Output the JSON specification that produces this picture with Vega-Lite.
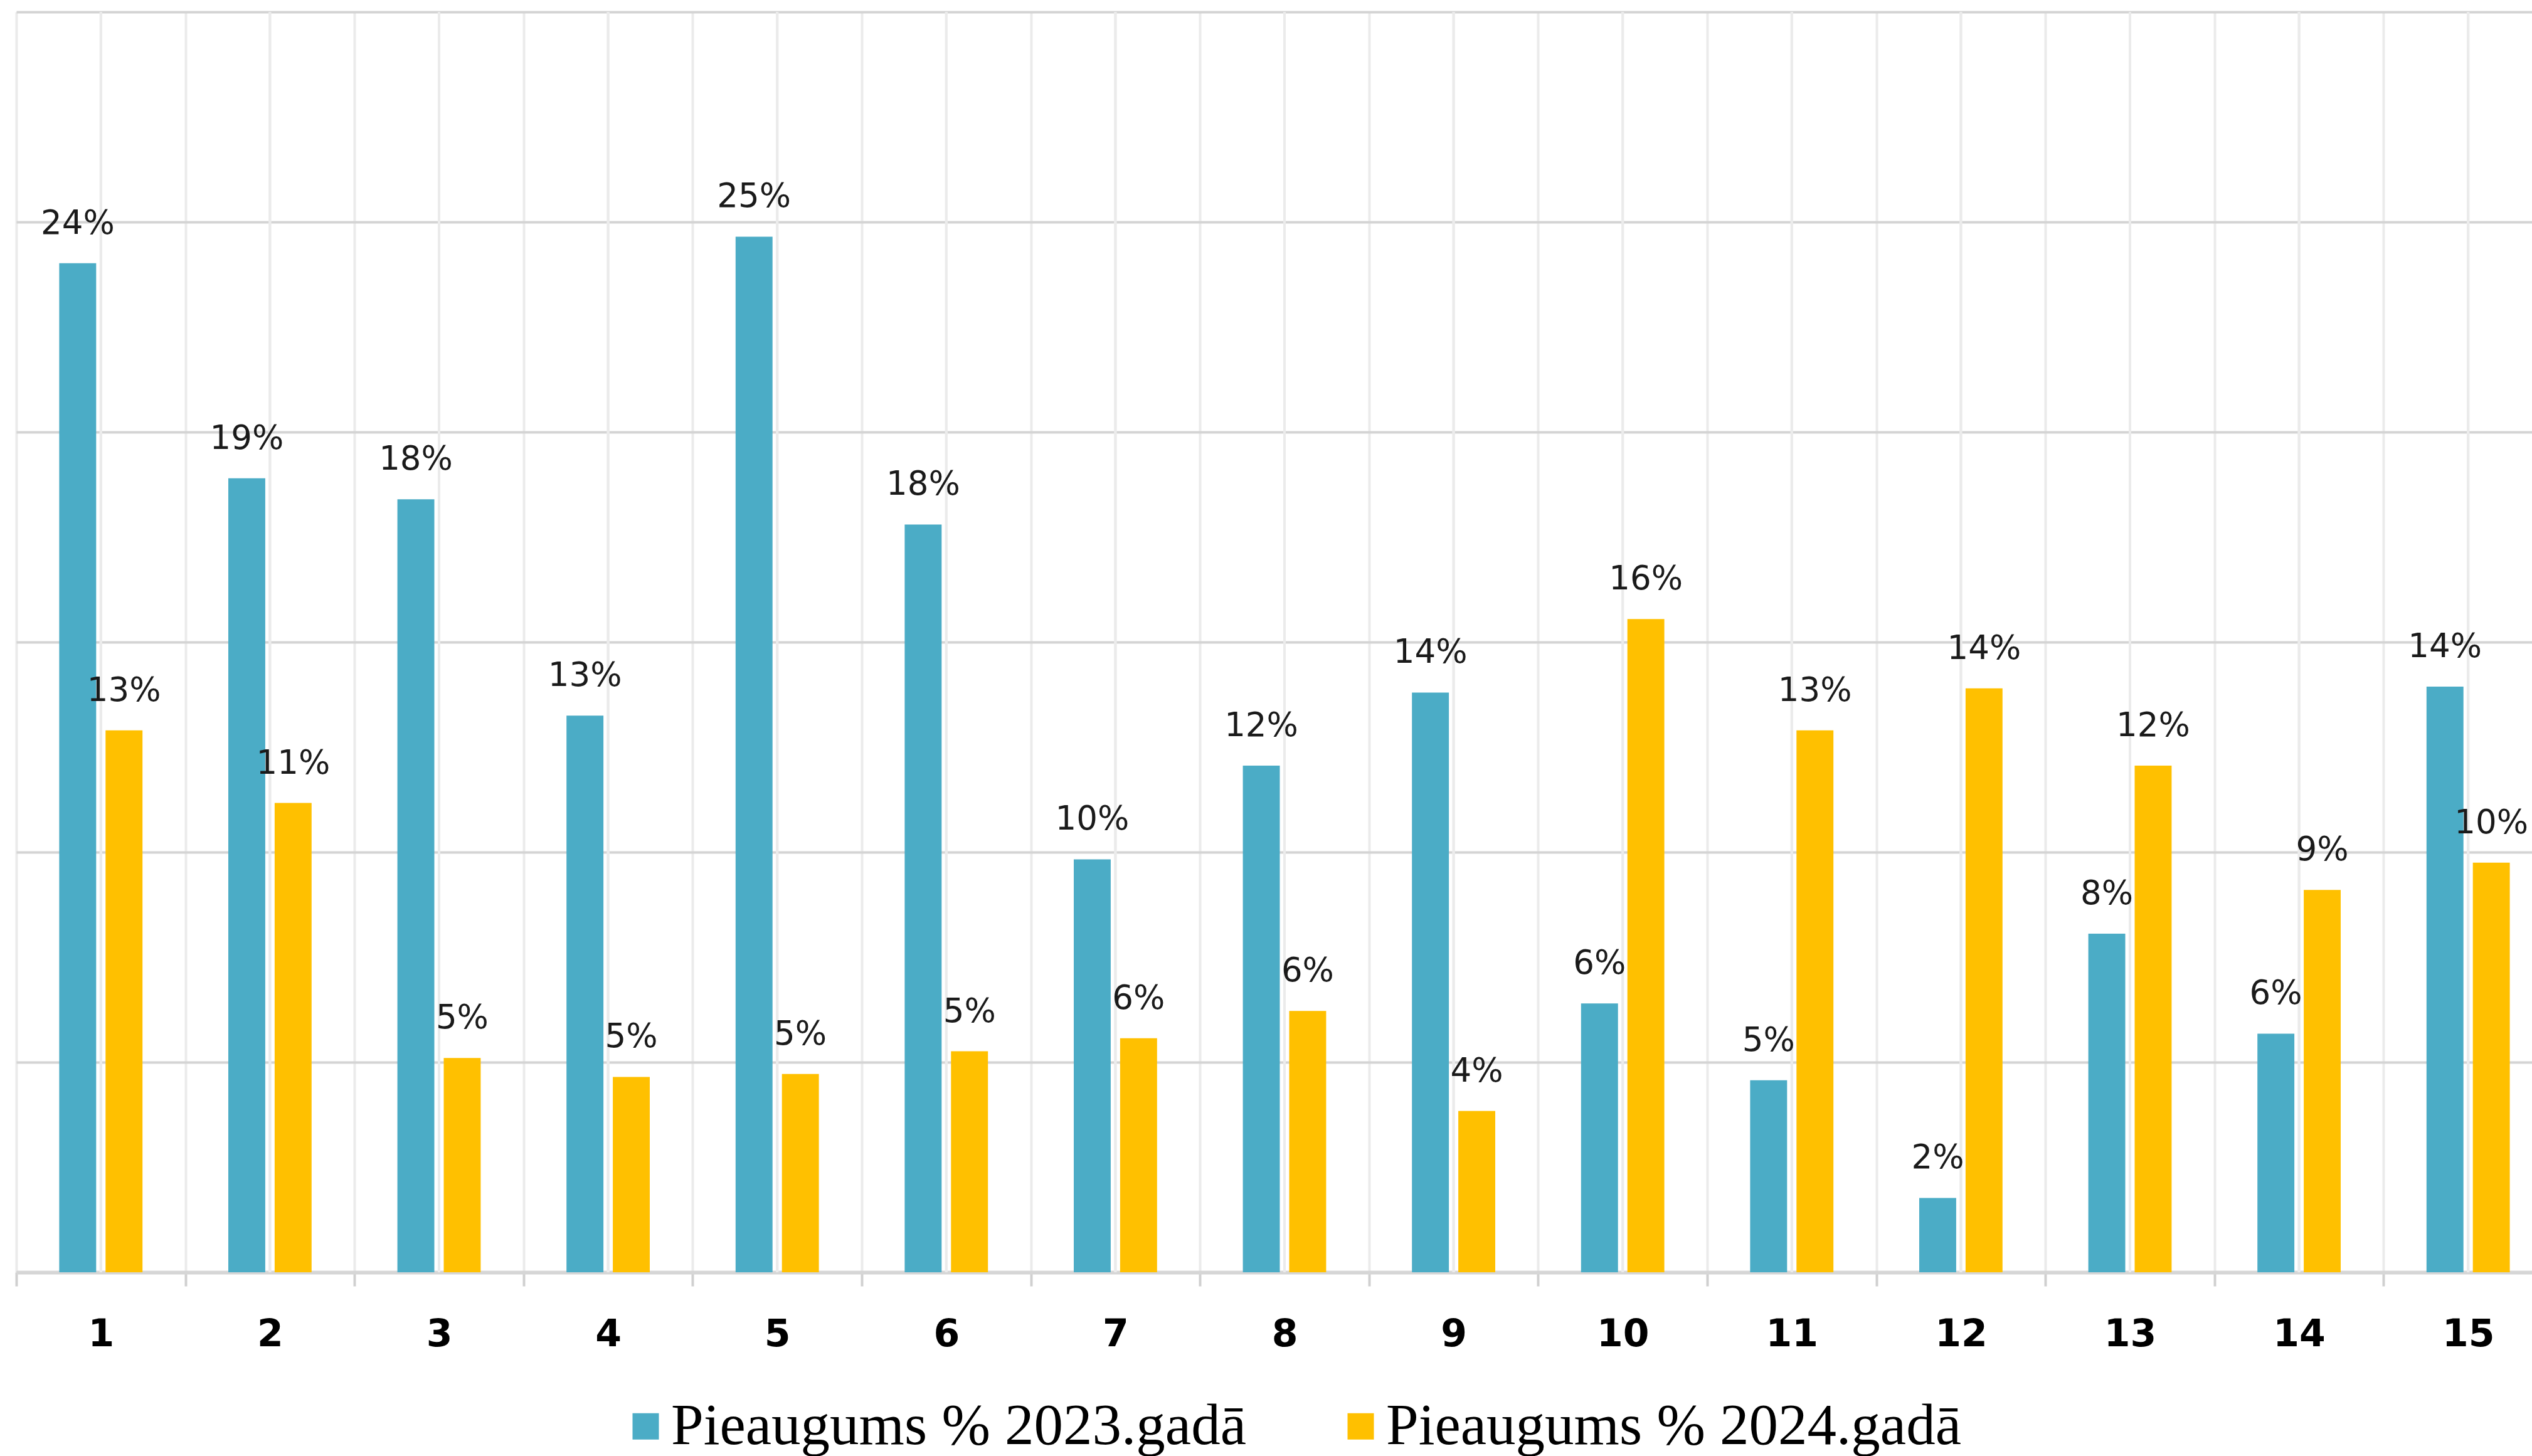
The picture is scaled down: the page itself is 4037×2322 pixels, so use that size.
{
  "$schema": "https://vega.github.io/schema/vega-lite/v6.json",
  "width": 4011,
  "height": 2010,
  "autosize": {"type": "none"},
  "padding": {"left": 26, "top": 19, "right": 0, "bottom": 293},
  "background": "white",
  "config": {"view": {"stroke": null}},
  "data": {
    "values": [
      {"nr": 1, "serija": "Pieaugums % 2023.gadā", "vertiba": 0.2402},
      {"nr": 1, "serija": "Pieaugums % 2024.gadā", "vertiba": 0.129},
      {"nr": 2, "serija": "Pieaugums % 2023.gadā", "vertiba": 0.189},
      {"nr": 2, "serija": "Pieaugums % 2024.gadā", "vertiba": 0.1117},
      {"nr": 3, "serija": "Pieaugums % 2023.gadā", "vertiba": 0.184},
      {"nr": 3, "serija": "Pieaugums % 2024.gadā", "vertiba": 0.051},
      {"nr": 4, "serija": "Pieaugums % 2023.gadā", "vertiba": 0.1325},
      {"nr": 4, "serija": "Pieaugums % 2024.gadā", "vertiba": 0.0465},
      {"nr": 5, "serija": "Pieaugums % 2023.gadā", "vertiba": 0.2465},
      {"nr": 5, "serija": "Pieaugums % 2024.gadā", "vertiba": 0.0472},
      {"nr": 6, "serija": "Pieaugums % 2023.gadā", "vertiba": 0.178},
      {"nr": 6, "serija": "Pieaugums % 2024.gadā", "vertiba": 0.0526},
      {"nr": 7, "serija": "Pieaugums % 2023.gadā", "vertiba": 0.0983},
      {"nr": 7, "serija": "Pieaugums % 2024.gadā", "vertiba": 0.0557},
      {"nr": 8, "serija": "Pieaugums % 2023.gadā", "vertiba": 0.1206},
      {"nr": 8, "serija": "Pieaugums % 2024.gadā", "vertiba": 0.0622},
      {"nr": 9, "serija": "Pieaugums % 2023.gadā", "vertiba": 0.138},
      {"nr": 9, "serija": "Pieaugums % 2024.gadā", "vertiba": 0.0384},
      {"nr": 10, "serija": "Pieaugums % 2023.gadā", "vertiba": 0.064},
      {"nr": 10, "serija": "Pieaugums % 2024.gadā", "vertiba": 0.1555},
      {"nr": 11, "serija": "Pieaugums % 2023.gadā", "vertiba": 0.0457},
      {"nr": 11, "serija": "Pieaugums % 2024.gadā", "vertiba": 0.129},
      {"nr": 12, "serija": "Pieaugums % 2023.gadā", "vertiba": 0.0177},
      {"nr": 12, "serija": "Pieaugums % 2024.gadā", "vertiba": 0.139},
      {"nr": 13, "serija": "Pieaugums % 2023.gadā", "vertiba": 0.0806},
      {"nr": 13, "serija": "Pieaugums % 2024.gadā", "vertiba": 0.1206},
      {"nr": 14, "serija": "Pieaugums % 2023.gadā", "vertiba": 0.0568},
      {"nr": 14, "serija": "Pieaugums % 2024.gadā", "vertiba": 0.091},
      {"nr": 15, "serija": "Pieaugums % 2023.gadā", "vertiba": 0.1394},
      {"nr": 15, "serija": "Pieaugums % 2024.gadā", "vertiba": 0.0975}
    ]
  },
  "encoding": {
    "x": {
      "field": "nr",
      "type": "ordinal",
      "scale": {"range": [0, 4044], "paddingInner": 0, "paddingOuter": 0},
      "axis": {
        "title": null,
        "labelAngle": 0,
        "labelFont": "DejaVu Sans",
        "labelFontSize": 60,
        "labelFontWeight": "bold",
        "labelColor": "#000000",
        "labelPadding": 48,
        "tickBand": "extent",
        "ticks": true,
        "tickSize": 22,
        "tickColor": "#d0d0d0",
        "tickWidth": 4,
        "domainColor": "#d6d6d6",
        "domainWidth": 6,
        "grid": true,
        "gridColor": "#ebebeb",
        "gridWidth": 4
      }
    }
  },
  "layer": [
    {
      "mark": {"type": "rule", "color": "#ebebeb", "strokeWidth": 4},
      "encoding": {}
    },
    {
      "mark": {"type": "bar"},
      "encoding": {
        "xOffset": {"field": "serija", "type": "nominal", "scale": {"paddingInner": 0.2027, "paddingOuter": 0.9257}},
        "y": {
          "field": "vertiba",
          "type": "quantitative",
          "scale": {"domain": [0, 0.3]},
          "axis": {
            "title": null,
            "labels": false,
            "ticks": false,
            "domain": false,
            "grid": true,
            "values": [0, 0.05, 0.1, 0.15, 0.2, 0.25, 0.3],
            "gridColor": "#d4d4d4",
            "gridWidth": 4
          }
        },
        "color": {
          "field": "serija",
          "type": "nominal",
          "scale": {"domain": ["Pieaugums % 2023.gadā", "Pieaugums % 2024.gadā"], "range": ["#4BACC6", "#FFC000"]},
          "legend": {
            "title": null,
            "orient": "none",
            "legendX": 957,
            "legendY": 2209,
            "direction": "horizontal",
            "symbolType": "square",
            "symbolSize": 1764,
            "symbolStrokeWidth": 0,
            "symbolOpacity": 1,
            "labelFont": "Liberation Serif",
            "labelFontSize": 93,
            "labelColor": "#000000",
            "labelLimit": 3000,
            "labelOffset": -6,
            "columnPadding": 136,
            "padding": 0
          }
        }
      }
    },
    {
      "mark": {"type": "text", "font": "DejaVu Sans", "fontSize": 53, "baseline": "alphabetic", "dy": -47, "color": "#1a1a1a"},
      "encoding": {
        "xOffset": {"field": "serija", "type": "nominal"},
        "y": {"field": "vertiba", "type": "quantitative"},
        "text": {"field": "vertiba", "type": "quantitative", "format": ".0%"}
      }
    }
  ]
}
